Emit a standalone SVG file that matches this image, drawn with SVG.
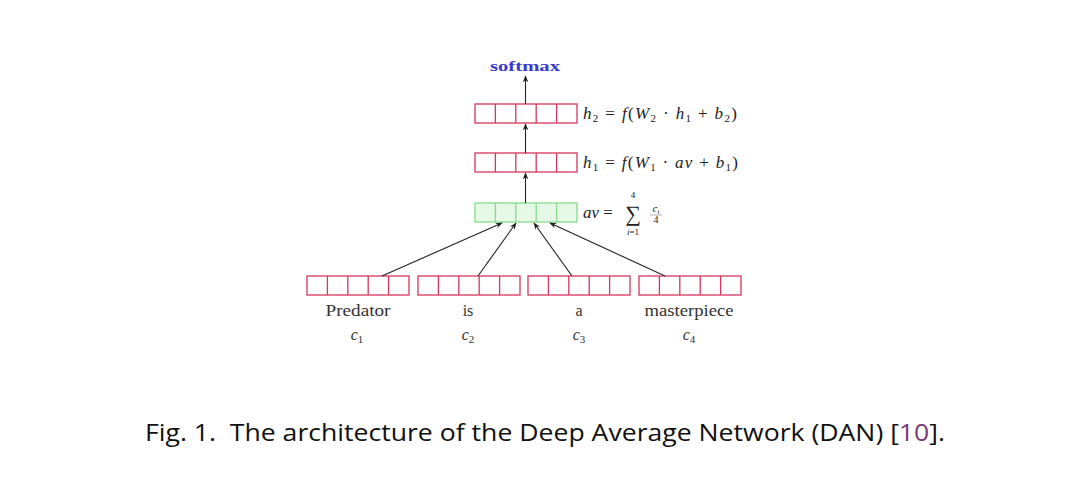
<svg xmlns="http://www.w3.org/2000/svg" width="1080" height="491" viewBox="0 0 1080 491">
<defs>
<style>
.red{fill:#fff;stroke:#d8365e;stroke-width:1.3}
.grn{fill:#e6f8e6;stroke:#86dd8a;stroke-width:1.3}
.edge{stroke:#222;stroke-width:1.1;fill:none;marker-end:url(#ah)}
.math{font-family:"Liberation Serif","DejaVu Serif",serif;font-style:italic;font-size:17px;fill:#222}
.rm{font-style:normal}
.lbl{font-family:"Liberation Serif","DejaVu Serif",serif;font-size:16px;fill:#333;text-anchor:middle}
.sub{font-size:11px}
.sm{font-family:"Liberation Serif","DejaVu Serif",serif;fill:#222;text-anchor:middle}
</style>
<marker id="ah" viewBox="0 0 10 10" refX="9" refY="5" markerWidth="7" markerHeight="7" orient="auto" markerUnits="userSpaceOnUse">
<path d="M0,1 L10,5 L0,9 L3,5 Z" fill="#222"/>
</marker>
<g id="cells">
<rect x="0" y="0" width="102" height="19"/>
<line x1="20.4" y1="0" x2="20.4" y2="19"/>
<line x1="40.8" y1="0" x2="40.8" y2="19"/>
<line x1="61.2" y1="0" x2="61.2" y2="19"/>
<line x1="81.6" y1="0" x2="81.6" y2="19"/>
</g>
</defs>
<rect width="1080" height="491" fill="#fff"/>

<g id="h2">
<use href="#cells" x="475" y="104" class="red"/>
<text class="math" x="583" y="119" textLength="154" lengthAdjust="spacing">h<tspan class="sub rm" dy="3">2</tspan><tspan class="rm" dy="-3"> = </tspan>f<tspan class="rm">(</tspan>W<tspan class="sub rm" dy="3">2</tspan><tspan class="rm" dy="-3"> · </tspan>h<tspan class="sub rm" dy="3">1</tspan><tspan class="rm" dy="-3"> + </tspan>b<tspan class="sub rm" dy="3">2</tspan><tspan class="rm" dy="-3">)</tspan></text>
</g>

<g id="h1">
<use href="#cells" x="475" y="153" class="red"/>
<text class="math" x="583" y="168" textLength="155" lengthAdjust="spacing">h<tspan class="sub rm" dy="3">1</tspan><tspan class="rm" dy="-3"> = </tspan>f<tspan class="rm">(</tspan>W<tspan class="sub rm" dy="3">1</tspan><tspan class="rm" dy="-3"> · </tspan>av<tspan class="rm"> + </tspan>b<tspan class="sub rm" dy="3">1</tspan><tspan class="rm" dy="-3">)</tspan></text>
</g>

<g id="av">
<use href="#cells" x="475" y="203" class="grn"/>
<text class="math" x="583" y="218">av<tspan class="rm"> =</tspan></text>
<text class="sm" x="633" y="221" font-size="22">∑</text>
<text class="sm" x="633" y="198" font-size="9">4</text>
<text class="sm" x="633" y="235" font-size="9"><tspan font-style="italic">i</tspan>=1</text>
<text class="sm" x="656" y="212" font-style="italic" font-size="11">c<tspan font-size="7" dy="2">i</tspan></text>
<line x1="650" y1="215" x2="662" y2="215" stroke="#666" stroke-width="0.5"/>
<text class="sm" x="656" y="223" font-size="10">4</text>
</g>

<g id="c1">
<use href="#cells" x="307" y="276" class="red"/>
<text class="lbl" x="358" y="316" textLength="65" lengthAdjust="spacingAndGlyphs">Predator</text>
<text class="lbl" x="357" y="340" font-style="italic">c<tspan class="sub" font-style="normal" dy="3">1</tspan></text>
</g>
<g id="c2">
<use href="#cells" x="418" y="276" class="red"/>
<text class="lbl" x="468" y="316">is</text>
<text class="lbl" x="468" y="340" font-style="italic">c<tspan class="sub" font-style="normal" dy="3">2</tspan></text>
</g>
<g id="c3">
<use href="#cells" x="528" y="276" class="red"/>
<text class="lbl" x="579" y="316">a</text>
<text class="lbl" x="579" y="340" font-style="italic">c<tspan class="sub" font-style="normal" dy="3">3</tspan></text>
</g>
<g id="c4">
<use href="#cells" x="639" y="276" class="red"/>
<text class="lbl" x="689" y="316" textLength="89" lengthAdjust="spacingAndGlyphs">masterpiece</text>
<text class="lbl" x="689" y="340" font-style="italic">c<tspan class="sub" font-style="normal" dy="3">4</tspan></text>
</g>

<g id="connectors">
<line class="edge" x1="525.5" y1="104" x2="525.5" y2="76"/>
<line class="edge" x1="525.5" y1="153" x2="525.5" y2="124"/>
<line class="edge" x1="525.5" y1="203" x2="525.5" y2="173"/>
<line class="edge" x1="382" y1="276" x2="502" y2="223"/>
<line class="edge" x1="478" y1="276" x2="516" y2="223"/>
<line class="edge" x1="572" y1="276" x2="534" y2="223"/>
<line class="edge" x1="665" y1="276" x2="550" y2="223"/>
</g>

<g id="softmax">
<text x="525" y="71" text-anchor="middle" font-family="Liberation Serif, DejaVu Serif, serif" font-weight="bold" font-size="15" fill="#3a3ad0" textLength="70" lengthAdjust="spacingAndGlyphs">softmax</text>
</g>

<g id="caption">
<text x="145" y="441" font-family="Open Sans, Noto Sans, sans-serif" font-size="23" fill="#111" textLength="800" lengthAdjust="spacingAndGlyphs">Fig. 1.&#160; The architecture of the Deep Average Network (DAN) [<tspan fill="#7a3a7a">10</tspan>].</text>
</g>
</svg>
